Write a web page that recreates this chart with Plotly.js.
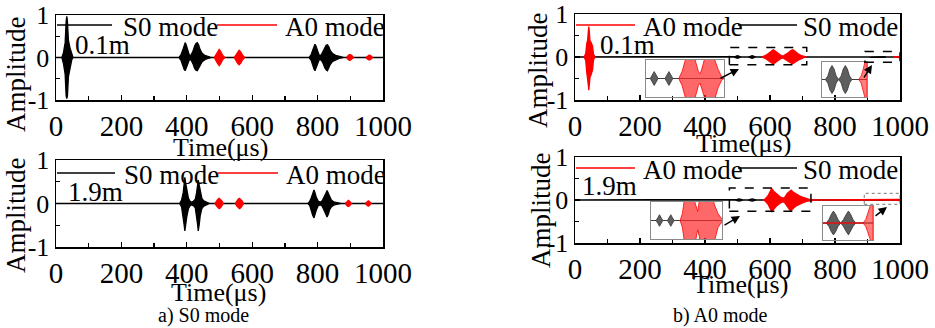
<!DOCTYPE html>
<html>
<head>
<meta charset="utf-8">
<script src="https://cdn.plot.ly/plotly-3.0.1.min.js"></script>
<style>html,body{margin:0;padding:0;background:#fff;}#chart{width:935px;height:328px;}</style>
</head>
<body>
<div id="chart"></div>
<script>
// ---------------- DATA (envelopes of the recorded wave packets, read from the figure) ----------------
// a) S0 excitation, sensor at 0.1 m
const aTop_S0_t  = [0, 18, 23, 28, 31, 33, 35, 38, 43, 48, 52,
  376, 382, 388, 392, 395, 398, 403, 408, 413, 419, 424, 428, 432, 436, 441, 447, 455, 465, 476,
  774, 780, 785, 789, 792, 795, 800, 805, 811, 817, 822, 826, 830, 834, 839, 846, 855, 866, 880, 1000];
const aTop_S0_up = [0, 0, 0.12, 0.35, 0.85, 0.97, 0.85, 0.4, 0.22, 0.06, 0,
  0, 0.06, 0.18, 0.3, 0.35, 0.3, 0.15, 0.05, 0.06, 0.15, 0.27, 0.33, 0.35, 0.3, 0.18, 0.1, 0.05, 0.02, 0,
  0, 0.06, 0.17, 0.27, 0.31, 0.27, 0.14, 0.05, 0.06, 0.14, 0.24, 0.29, 0.3, 0.26, 0.16, 0.09, 0.05, 0.02, 0, 0];
const aTop_S0_lo = [0, 0, -0.15, -0.4, -0.9, -0.97, -0.9, -0.45, -0.25, -0.06, 0,
  0, -0.06, -0.18, -0.28, -0.31, -0.28, -0.15, -0.05, -0.06, -0.15, -0.26, -0.3, -0.31, -0.28, -0.18, -0.1, -0.05, -0.02, 0,
  0, -0.06, -0.17, -0.27, -0.31, -0.27, -0.14, -0.05, -0.06, -0.14, -0.24, -0.29, -0.31, -0.26, -0.16, -0.09, -0.05, -0.02, 0, 0];
const aTop_A0_t  = [484, 489, 494, 499, 504, 509, 516, null, 545, 550, 555, 560, 565, 570, 577, null, 889, 894, 899, 904, 910, null, 948, 953, 958, 963, 968];
const aTop_A0_up = [0, 0.06, 0.14, 0.19, 0.14, 0.06, 0, null, 0, 0.06, 0.13, 0.17, 0.13, 0.06, 0, null, 0, 0.05, 0.07, 0.05, 0, null, 0, 0.04, 0.06, 0.04, 0];
const aTop_A0_lo = [0, -0.06, -0.14, -0.19, -0.14, -0.06, 0, null, 0, -0.06, -0.13, -0.17, -0.13, -0.06, 0, null, 0, -0.05, -0.07, -0.05, 0, null, 0, -0.04, -0.06, -0.04, 0];

// a) S0 excitation, sensor at 1.9 m
const aBot_S0_t  = [0, 378, 384, 389, 392, 394, 397, 400, 405, 410, 415,
  420, 426, 430, 433, 435, 438, 441, 446, 452, 460, 470,
  770, 776, 781, 785, 789, 792, 796, 802, 808, 814, 820, 825, 829, 833, 837, 842, 849, 858, 872, 1000];
const aBot_S0_up = [0, 0, 0.08, 0.25, 0.45, 0.6, 0.45, 0.28, 0.12, 0.05, 0.03,
  0.05, 0.1, 0.25, 0.42, 0.54, 0.42, 0.27, 0.12, 0.06, 0.03, 0,
  0, 0.05, 0.14, 0.25, 0.31, 0.25, 0.14, 0.05, 0.03, 0.06, 0.14, 0.23, 0.3, 0.23, 0.14, 0.08, 0.04, 0.02, 0, 0];
const aBot_S0_lo = [0, 0, -0.08, -0.28, -0.5, -0.63, -0.5, -0.3, -0.12, -0.05, -0.03,
  -0.05, -0.1, -0.28, -0.48, -0.63, -0.48, -0.28, -0.12, -0.06, -0.03, 0,
  0, -0.05, -0.15, -0.27, -0.33, -0.27, -0.15, -0.05, -0.03, -0.06, -0.14, -0.24, -0.31, -0.24, -0.14, -0.08, -0.04, -0.02, 0, 0];
const aBot_A0_t  = [486, 491, 495, 499, 503, 507, 512, null, 548, 553, 557, 561, 565, 569, 574, null, 885, 890, 894, 898, 903, null, 946, 951, 955, 959, 964];
const aBot_A0_up = [0, 0.06, 0.1, 0.12, 0.1, 0.06, 0, null, 0, 0.06, 0.1, 0.12, 0.1, 0.06, 0, null, 0, 0.05, 0.07, 0.05, 0, null, 0, 0.04, 0.06, 0.04, 0];
const aBot_A0_lo = [0, -0.06, -0.1, -0.12, -0.1, -0.06, 0, null, 0, -0.06, -0.1, -0.12, -0.1, -0.06, 0, null, 0, -0.05, -0.07, -0.05, 0, null, 0, -0.04, -0.06, -0.04, 0];

// b) A0 excitation, sensor at 0.1 m
const bTop_S0_t  = [0, 488, 494, 500, 506, 512, 533, 539, 545, 551, 557, 900, 906, 911, 916, 921, 926, 932, 938, 943, 948, 953, 958, 964, 1000];
const bTop_S0_up = [0, 0, 0.015, 0.03, 0.015, 0, 0, 0.015, 0.03, 0.015, 0, 0, 0.002, 0.006, 0.008, 0.006, 0.002, 0, 0.002, 0.006, 0.008, 0.006, 0.002, 0, 0];
const bTop_S0_lo = [0, 0, -0.015, -0.03, -0.015, 0, 0, -0.015, -0.03, -0.015, 0, 0, -0.002, -0.006, -0.008, -0.006, -0.002, 0, -0.002, -0.006, -0.008, -0.006, -0.002, 0, 0];
const bTop_A0_t  = [28, 33, 36, 39, 41, 42.5, 44, 46, 50, 54, 57, 62, null,
  575, 585, 595, 604, 610, 616, 625, 635, 640, 645, 655, 664, 670, 676, 685, 695, 705, 712, null,
  980, 986, 990, 994, 997, 1000];
const bTop_A0_up = [0, 0.08, 0.3, 0.4, 0.6, 0.71, 0.6, 0.38, 0.33, 0.25, 0.06, 0, null,
  0, 0.03, 0.08, 0.14, 0.17, 0.14, 0.08, 0.03, 0.02, 0.04, 0.09, 0.15, 0.17, 0.14, 0.08, 0.04, 0.01, 0, null,
  0, 0.002, 0.005, 0.009, 0.012, 0.015];
const bTop_A0_lo = [0, -0.08, -0.35, -0.45, -0.65, -0.77, -0.65, -0.48, -0.4, -0.3, -0.06, 0, null,
  0, -0.03, -0.08, -0.13, -0.16, -0.13, -0.08, -0.03, -0.02, -0.04, -0.09, -0.14, -0.16, -0.13, -0.08, -0.04, -0.01, 0, null,
  0, -0.002, -0.005, -0.009, -0.012, -0.015];

// b) A0 excitation, sensor at 1.9 m
const bBot_S0_t  = [0, 493, 499, 505, 511, 517, 533, 539, 545, 551, 557, 897, 903, 908, 913, 918, 923, 929, 935, 941, 946, 951, 956, 962, 1000];
const bBot_S0_up = [0, 0, 0.012, 0.025, 0.012, 0, 0, 0.012, 0.025, 0.012, 0, 0, 0.002, 0.005, 0.007, 0.005, 0.002, 0, 0.002, 0.005, 0.007, 0.005, 0.002, 0, 0];
const bBot_S0_lo = [0, 0, -0.012, -0.025, -0.012, 0, 0, -0.012, -0.025, -0.012, 0, 0, -0.002, -0.005, -0.007, -0.005, -0.002, 0, -0.002, -0.005, -0.007, -0.005, -0.002, 0, 0];
const bBot_A0_t  = [578, 586, 594, 600, 605, 612, 620, 630, 640, 646, 653, 660, 665, 672, 682, 692, 702, 712, 723, 740, 978, 984, 988, 993, 997, 1000];
const bBot_A0_up = [0, 0.03, 0.1, 0.19, 0.27, 0.2, 0.14, 0.08, 0.04, 0.07, 0.15, 0.21, 0.23, 0.18, 0.13, 0.09, 0.06, 0.03, 0.01, 0, 0, 0.002, 0.005, 0.009, 0.012, 0.015];
const bBot_A0_lo = [0, -0.03, -0.1, -0.19, -0.27, -0.2, -0.14, -0.08, -0.04, -0.07, -0.15, -0.22, -0.25, -0.19, -0.13, -0.09, -0.06, -0.03, -0.01, 0, 0, -0.002, -0.005, -0.009, -0.012, -0.015];

// axis ticks and labels
const xTickVals = [0, 200, 400, 600, 800, 1000];
const xTickText = ['0', '200', '400', '600', '800', '1000'];
const yTickVals = [-1, 0, 1];
const yTickText = ['-1', '0', '1'];
const yMinorVals = [-0.5, 0.5];
const modeNames = ['S0 mode', 'A0 mode'];
const distLabels = ['0.1m', '1.9m', '0.1m', '1.9m'];
const captions = ['a) S0 mode', 'b) A0 mode'];
const xTitle = 'Time(\u03bcs)';
const yTitle = 'Amplitude';

// ---------------- BUILD ----------------
const W = 935, H = 328;
const PX = p => p / W;
const PY = p => 1 - p / H;
const FONT = 'Liberation Serif, Times New Roman, serif';
const RED = '#ff0000', BLACK = '#000000';

// closed envelope polygon(s): upper envelope forward, lower envelope back, one per gap-separated segment
function envelope(t, up, lo) {
  const xs = [], ys = [];
  let seg = [];
  const flush = () => {
    if (!seg.length) return;
    if (xs.length) { xs.push(null); ys.push(null); }
    seg.forEach(i => { xs.push(t[i]); ys.push(up[i]); });
    seg.slice().reverse().forEach(i => { xs.push(t[i]); ys.push(lo[i]); });
    seg = [];
  };
  t.forEach((v, i) => { if (v === null) flush(); else seg.push(i); });
  flush();
  return {x: xs, y: ys};
}

function wave(t, up, lo, color, fill, xa, ya, lw, name) {
  const e = envelope(t, up, lo);
  return {type: 'scatter', mode: 'lines', x: e.x, y: e.y, xaxis: xa, yaxis: ya, name: name,
    fill: 'toself', fillcolor: fill, line: {color: color, width: lw}, connectgaps: false,
    showlegend: false, hoverinfo: 'skip'};
}

const traces = [
  wave(aTop_S0_t, aTop_S0_up, aTop_S0_lo, BLACK, BLACK, 'x', 'y', 1.3, modeNames[0]),
  wave(aTop_A0_t, aTop_A0_up, aTop_A0_lo, RED, RED, 'x', 'y', 1.3, modeNames[1]),
  wave(aBot_S0_t, aBot_S0_up, aBot_S0_lo, BLACK, BLACK, 'x2', 'y2', 1.3, modeNames[0]),
  wave(aBot_A0_t, aBot_A0_up, aBot_A0_lo, RED, RED, 'x2', 'y2', 1.3, modeNames[1]),
  wave(bTop_S0_t, bTop_S0_up, bTop_S0_lo, BLACK, BLACK, 'x3', 'y3', 1.3, modeNames[0]),
  wave(bTop_A0_t, bTop_A0_up, bTop_A0_lo, RED, RED, 'x3', 'y3', 1.3, modeNames[1]),
  wave(bBot_S0_t, bBot_S0_up, bBot_S0_lo, BLACK, BLACK, 'x4', 'y4', 1.3, modeNames[0]),
  wave(bBot_A0_t, bBot_A0_up, bBot_A0_lo, RED, RED, 'x4', 'y4', 1.3, modeNames[1]),
  // zoomed insets (same signals)
  wave(bTop_S0_t, bTop_S0_up, bTop_S0_lo, '#333', 'rgba(40,40,40,0.75)', 'x5', 'y5', 0.8, modeNames[0]),
  wave(bTop_A0_t, bTop_A0_up, bTop_A0_lo, RED, 'rgba(255,40,40,0.7)', 'x5', 'y5', 0.8, modeNames[1]),
  wave(bTop_S0_t, bTop_S0_up, bTop_S0_lo, '#333', 'rgba(40,40,40,0.75)', 'x6', 'y6', 0.8, modeNames[0]),
  wave(bTop_A0_t, bTop_A0_up, bTop_A0_lo, RED, 'rgba(255,40,40,0.6)', 'x6', 'y6', 0.8, modeNames[1]),
  wave(bBot_S0_t, bBot_S0_up, bBot_S0_lo, '#333', 'rgba(40,40,40,0.75)', 'x7', 'y7', 0.8, modeNames[0]),
  wave(bBot_A0_t, bBot_A0_up, bBot_A0_lo, RED, 'rgba(255,40,40,0.7)', 'x7', 'y7', 0.8, modeNames[1]),
  wave(bBot_S0_t, bBot_S0_up, bBot_S0_lo, '#333', 'rgba(40,40,40,0.75)', 'x8', 'y8', 0.8, modeNames[0]),
  wave(bBot_A0_t, bBot_A0_up, bBot_A0_lo, RED, 'rgba(255,40,40,0.6)', 'x8', 'y8', 0.8, modeNames[1])
];

function mainX(dom, anchor) {
  return {domain: dom, anchor: anchor, range: [0, 1000], tickmode: 'array', tickvals: xTickVals, ticktext: xTickText,
    ticks: 'inside', ticklen: 5, tickwidth: 1.3, tickcolor: BLACK,
    minor: {tickmode: 'linear', tick0: 0, dtick: 100, ticks: 'inside', ticklen: 4, tickwidth: 1.3, tickcolor: BLACK},
    showline: true, mirror: true, linecolor: BLACK, linewidth: 1.5, showgrid: false, zeroline: false,
    tickfont: {family: FONT, size: 29, color: BLACK}, fixedrange: true};
}
function mainY(dom, anchor) {
  return {domain: dom, anchor: anchor, range: [-1, 1], tickmode: 'array', tickvals: yTickVals, ticktext: yTickText,
    ticks: 'inside', ticklen: 5, tickwidth: 1.3, tickcolor: BLACK,
    minor: {tickmode: 'array', tickvals: yMinorVals, ticks: 'inside', ticklen: 4, tickwidth: 1.3, tickcolor: BLACK},
    showline: true, mirror: true, linecolor: BLACK, linewidth: 1.5, showgrid: false, zeroline: false,
    tickfont: {family: FONT, size: 26, color: BLACK}, fixedrange: true};
}
function insetAx(dom, anchor, rng) {
  return {domain: dom, anchor: anchor, range: rng, showline: true, mirror: true, linecolor: '#8a8a8a', linewidth: 1,
    showticklabels: false, ticks: '', showgrid: false, zeroline: false, fixedrange: true};
}

const axAX = [PX(56), PX(383)];
const axBX = [PX(575), PX(900)];
const layout = {
  width: W, height: H, margin: {l: 0, r: 0, t: 0, b: 0, pad: 0},
  paper_bgcolor: '#ffffff', plot_bgcolor: 'rgba(0,0,0,0)', showlegend: false,
  font: {family: FONT, color: BLACK},
  xaxis: mainX(axAX, 'y'),   yaxis: mainY([PY(100), PY(15)], 'x'),
  xaxis2: mainX(axAX, 'y2'), yaxis2: mainY([PY(247), PY(160)], 'x2'),
  xaxis3: mainX(axBX, 'y3'), yaxis3: mainY([PY(100), PY(14)], 'x3'),
  xaxis4: mainX(axBX, 'y4'), yaxis4: mainY([PY(243), PY(157)], 'x4'),
  xaxis5: insetAx([PX(646), PX(724)], 'y5', [475, 713]), yaxis5: insetAx([PY(97), PY(60)], 'x5', [-0.08, 0.08]),
  xaxis6: insetAx([PX(822), PX(867)], 'y6', [892, 1000]), yaxis6: insetAx([PY(97), PY(62)], 'x6', [-0.01, 0.01]),
  xaxis7: insetAx([PX(651), PX(722)], 'y7', [475, 726]), yaxis7: insetAx([PY(239), PY(202)], 'x7', [-0.08, 0.08]),
  xaxis8: insetAx([PX(823), PX(873)], 'y8', [890, 1000]), yaxis8: insetAx([PY(240), PY(206)], 'x8', [-0.01, 0.01]),
  shapes: [],
  annotations: []
};

const S = layout.shapes, A = layout.annotations;
function txt(text, x, y, size, opts) {
  A.push(Object.assign({text: text, x: PX(x), y: PY(y), xref: 'paper', yref: 'paper', showarrow: false,
    xanchor: 'center', yanchor: 'middle', font: {family: FONT, size: size, color: BLACK}}, opts || {}));
}
function legLine(x0, x1, y, color) {
  S.push({type: 'line', xref: 'paper', yref: 'paper', x0: PX(x0), x1: PX(x1), y0: PY(y), y1: PY(y),
    line: {color: color, width: 1.5}});
}

// legends
legLine(57, 112, 25, BLACK); txt(modeNames[0], 121, 27, 27, {xanchor: 'left'});
legLine(217, 277, 25, RED);  txt(modeNames[1], 283, 27, 27, {xanchor: 'left'});
legLine(57, 115, 173, BLACK); txt(modeNames[0], 122, 175, 27, {xanchor: 'left'});
legLine(218, 278, 173, RED);  txt(modeNames[1], 284, 175, 27, {xanchor: 'left'});
legLine(576, 635, 25, RED);   txt(modeNames[1], 641, 27, 27, {xanchor: 'left'});
legLine(738, 797, 25, BLACK); txt(modeNames[0], 801, 27, 27, {xanchor: 'left'});
legLine(576, 635, 168, RED);  txt(modeNames[1], 641, 170, 27, {xanchor: 'left'});
legLine(738, 797, 168, BLACK); txt(modeNames[0], 801, 170, 27, {xanchor: 'left'});

// distance labels
txt(distLabels[0], 73, 45, 27, {xanchor: 'left'});
txt(distLabels[1], 66, 192, 27, {xanchor: 'left'});
txt(distLabels[2], 598, 45, 27, {xanchor: 'left'});
txt(distLabels[3], 580, 186, 27, {xanchor: 'left'});

// axis titles
txt(yTitle, 16, 74, 27, {textangle: -90});
txt(yTitle, 16, 215, 27, {textangle: -90});
txt(yTitle, 538, 70, 27, {textangle: -90});
txt(yTitle, 541, 210, 27, {textangle: -90});
txt(xTitle, 220, 147, 26);
txt(xTitle, 218, 292, 26);
txt(xTitle, 743, 143, 26);
txt(xTitle, 740, 284, 26);

// captions
txt(captions[0], 203, 315, 20);
txt(captions[1], 720, 315, 20);

// zoom boxes and arrows
function box(xa, ya, x0, x1, y0, y1, color, dash, w) {
  S.push({type: 'rect', xref: xa, yref: ya, x0: x0, x1: x1, y0: y0, y1: y1, line: {color: color, width: w, dash: dash}});
}
box('x3', 'y3', 475, 713, -0.18, 0.22, BLACK, 'dash', 1.5);
box('x3', 'y3', 892, 1000, -0.12, 0.13, BLACK, 'dash', 1.5);
box('x4', 'y4', 475, 726, -0.26, 0.28, BLACK, 'dash', 1.5);
box('x4', 'y4', 890, 1000, -0.1, 0.155, '#777', 'dot', 1);

function arrow(tx, ty, hx, hy) {
  A.push({x: PX(hx), y: PY(hy), xref: 'paper', yref: 'paper', ax: tx - hx, ay: ty - hy, axref: 'pixel', ayref: 'pixel',
    showarrow: true, arrowhead: 2, arrowsize: 1.2, arrowwidth: 1.4, arrowcolor: BLACK, text: ''});
}
arrow(719, 79, 739, 69);
arrow(863, 79, 872, 65);
arrow(723, 226, 740, 216);
arrow(874, 217, 887, 207);

Plotly.newPlot('chart', traces, layout, {staticPlot: true, displayModeBar: false});
</script>
</body>
</html>
